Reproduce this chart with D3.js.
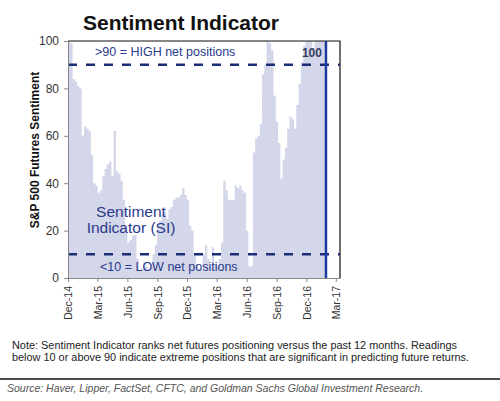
<!DOCTYPE html>
<html>
<head>
<meta charset="utf-8">
<script src="https://cdn.jsdelivr.net/npm/d3@7"></script>
<style>
  body { margin: 0; background: #fff; }
  svg { display: block; font-family: "Liberation Sans", Arial, sans-serif; }
</style>
</head>
<body>
<div id="chart"></div>
<script>
// weekly readings, first week starting Dec 1 2014
const weekStart = '2014-12-01';
const sentiment = [
  100, 99, 84, 83, 81, 80, 60, 64, 63, 62,
  52, 40, 39, 36, 37, 43, 46, 48, 49, 43,
  62, 45, 44, 41, 33, 20, 15, 16, 18, 18,
  8, 3, 4, 7, 5, 3, 6, 10, 14, 22,
  24, 27, 28, 25, 29, 30, 33, 34, 34, 35,
  38, 35, 33, 22, 20, 10, 6, 4, 3, 10,
  14, 8, 5, 13, 6, 5, 8, 15, 41, 37,
  33, 33, 33, 39, 38, 39, 37, 36, 20, 5,
  5, 53, 59, 60, 65, 86, 90, 100, 99, 96,
  77, 66, 57, 42, 50, 55, 63, 68, 67, 63,
  73, 82, 91, 98, 100, 100, 100, 97, 100, 100,
  100, 100, 100
];
const tickLabels = ['Dec-14', 'Mar-15', 'Jun-15', 'Sep-15', 'Dec-15', 'Mar-16', 'Jun-16', 'Sep-16', 'Dec-16', 'Mar-17'];
const yTicks = [0, 20, 40, 60, 80, 100];
const thresholds = [90, 10];
const domainEnd = '2017-03-14';

let margin = { top: 41, right: 160, bottom: 123, left: 68 };
let width = 500, height = 401;
let plotW = width - margin.left - margin.right;
let plotH = height - margin.top - margin.bottom;

const parseDay = d3.timeParse('%Y-%m-%d');
const parseTick = d3.timeParse('%b-%y');
const start = parseDay(weekStart);

const data = sentiment.map((v, i) => ({ date: d3.timeDay.offset(start, 7 * i), value: v }));
const lastEnd = d3.timeDay.offset(start, 7 * sentiment.length);

let svg = d3.select('#chart').append('svg')
  .attr('width', width)
  .attr('height', height);

let g = svg.append('g')
  .attr('transform', 'translate(' + margin.left + ',' + margin.top + ')');

let x = d3.scaleTime()
  .domain([start, parseDay(domainEnd)])
  .range([0, plotW]);
let y = d3.scaleLinear()
  .domain([0, 100])
  .range([plotH, 0]);

// stepped area
const stepData = data.concat([{ date: lastEnd, value: sentiment[sentiment.length - 1] }]);
let area = d3.area()
  .curve(d3.curveStepAfter)
  .x(d => x(d.date))
  .y0(y(0))
  .y1(d => y(d.value));
g.append('path')
  .datum(stepData)
  .attr('d', area)
  .attr('fill', '#d3d7e9');

// frame top + right
g.append('path')
  .attr('d', 'M0,0H' + plotW + 'V' + plotH)
  .attr('fill', 'none')
  .attr('stroke', '#111')
  .attr('stroke-width', 1.2);

// threshold lines
g.selectAll('.thr').data(thresholds).enter()
  .append('line')
  .attr('class', 'thr')
  .attr('x1', 0)
  .attr('x2', plotW)
  .attr('y1', d => y(d))
  .attr('y2', d => y(d))
  .attr('stroke', '#1c2d78')
  .attr('stroke-width', 2.6)
  .attr('stroke-dasharray', '9,9');

// latest reading marker
g.append('line')
  .attr('x1', x(lastEnd))
  .attr('x2', x(lastEnd))
  .attr('y1', 0)
  .attr('y2', plotH)
  .attr('stroke', '#1f3a9e')
  .attr('stroke-width', 2.5);

// axes
let yAxis = d3.axisLeft(y).tickValues(yTicks).tickSize(4).tickPadding(5);
let yg = g.append('g').call(yAxis);
yg.select('.domain').attr('stroke', '#888');
yg.selectAll('.tick line').attr('stroke', '#888');
yg.selectAll('.tick text').attr('fill', '#333').style('font-size', '12px');

let xAxis = d3.axisBottom(x)
  .tickValues(tickLabels.map(t => parseTick(t)))
  .tickFormat(d3.timeFormat('%b-%y'))
  .tickSize(4)
  .tickSizeOuter(0);
let xg = g.append('g').attr('transform', 'translate(0,' + plotH + ')').call(xAxis);
xg.select('.domain').attr('stroke', '#888');
xg.selectAll('.tick line').attr('stroke', '#888');
xg.selectAll('.tick text')
  .attr('fill', '#333')
  .style('font-size', '10.5px')
  .attr('text-anchor', 'end')
  .attr('transform', 'rotate(-90)')
  .attr('x', -8)
  .attr('y', 0)
  .attr('dy', '0.35em');

// labels inside plot
const navy = '#2a3a8c';
g.append('text')
  .attr('x', 27).attr('y', 15)
  .attr('fill', navy).style('font-size', '12.5px')
  .text('>90 = HIGH net positions');
g.append('text')
  .attr('x', 32).attr('y', 230)
  .attr('fill', navy).style('font-size', '12.5px')
  .text('<10 = LOW net positions');
g.append('text')
  .attr('x', x(lastEnd) - 4).attr('y', 16)
  .attr('text-anchor', 'end')
  .attr('fill', '#353a5c').style('font-size', '12px').style('font-weight', 'bold')
  .text('100');
let si = g.append('text')
  .attr('text-anchor', 'middle')
  .attr('fill', navy).style('font-size', '15.5px');
si.append('tspan').attr('x', 63).attr('y', 176).text('Sentiment');
si.append('tspan').attr('x', 63).attr('y', 192).text('Indicator (SI)');

// y label
svg.append('text')
  .attr('transform', 'translate(39,150) rotate(-90)')
  .attr('text-anchor', 'middle')
  .style('font-size', '12px').style('font-weight', 'bold')
  .attr('fill', '#111')
  .text('S&P 500 Futures Sentiment');

// title
svg.append('text')
  .attr('x', 83).attr('y', 30)
  .style('font-size', '21px').style('font-weight', 'bold')
  .attr('fill', '#111')
  .text('Sentiment Indicator');

// notes
let note = svg.append('text')
  .attr('fill', '#222').style('font-size', '10.9px');
note.append('tspan').attr('x', 12).attr('y', 349)
  .text('Note: Sentiment Indicator ranks net futures positioning versus the past 12 months. Readings');
note.append('tspan').attr('x', 12).attr('y', 361)
  .text('below 10 or above 90 indicate extreme positions that are significant in predicting future returns.');

svg.append('line')
  .attr('x1', 0).attr('x2', width)
  .attr('y1', 379).attr('y2', 379)
  .attr('stroke', '#111').attr('stroke-width', 1.5);

svg.append('text')
  .attr('x', 7).attr('y', 392)
  .attr('fill', '#555').style('font-size', '10.5px').style('font-style', 'italic')
  .text('Source: Haver, Lipper, FactSet, CFTC, and Goldman Sachs Global Investment Research.');
</script>
</body>
</html>
